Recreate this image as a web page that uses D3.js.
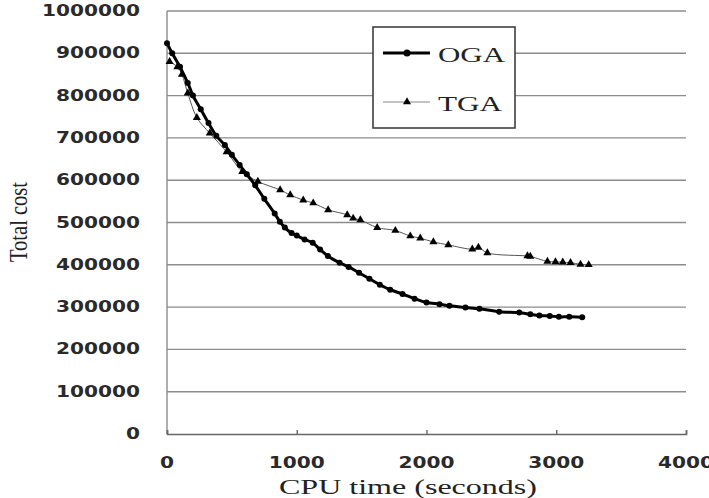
<!DOCTYPE html>
<html>
<head>
<meta charset="utf-8">
<script src="https://cdn.jsdelivr.net/npm/d3@7"></script>
<style>
  body { margin: 0; background: #fff; }
  svg { display: block; }
</style>
</head>
<body>
<div id="chart"></div>
<script>
// values
const ogaTime = [0, 40, 100, 160, 200, 260, 320, 380, 446, 500, 560, 615, 680, 750, 830, 870, 908, 960, 1000, 1060, 1123, 1180, 1240, 1330, 1400, 1480, 1560, 1640, 1720, 1815, 1908, 2000, 2100, 2177, 2300, 2408, 2560, 2715, 2800, 2870, 2950, 3020, 3100, 3200];
const ogaCost = [924000, 900000, 868000, 830000, 800000, 768000, 735000, 705000, 683000, 660000, 636000, 614000, 588000, 556000, 521000, 502000, 488000, 475000, 469000, 460000, 452000, 436000, 421000, 405000, 395000, 381000, 367000, 353000, 341000, 331000, 320000, 311000, 307000, 303000, 299000, 296000, 289000, 287000, 283000, 280000, 279000, 277000, 277000, 276000];

const tgaTime = [20, 80, 115, 160, 230, 330, 460, 580, 700, 872, 950, 1050, 1127, 1242, 1389, 1435, 1490, 1620, 1760, 1875, 1952, 2053, 2168, 2353, 2400, 2469, 2778, 2800, 2932, 2994, 3050, 3110, 3187, 3250];
const tgaCost = [880000, 868000, 850000, 806000, 748000, 711000, 667000, 620000, 597000, 577000, 565000, 553000, 546000, 530000, 518000, 510000, 506000, 488000, 481000, 468000, 463000, 454000, 447000, 437000, 441000, 428000, 421000, 420000, 408000, 407000, 406000, 405000, 401000, 400000];

const xTicks = [0, 1000, 2000, 3000, 4000];
const yTicks = [0, 100000, 200000, 300000, 400000, 500000, 600000, 700000, 800000, 900000, 1000000];
const seriesNames = ["OGA", "TGA"];

const width = 709, height = 498;
const margin = {top: 11, right: 23, bottom: 64, left: 167};

const svg = d3.select('#chart').append('svg')
    .attr('width', width)
    .attr('height', height);

const x = d3.scaleLinear().domain([0, 4000]).range([margin.left, width - margin.right]);
const y = d3.scaleLinear().domain([0, 1000000]).range([height - margin.bottom, margin.top]);

// gridlines
svg.append('g').selectAll('line')
    .data(yTicks.filter(d => d > 0))
    .enter().append('line')
    .attr('x1', x(0)).attr('x2', x(4000))
    .attr('y1', d => y(d)).attr('y2', d => y(d))
    .attr('stroke', '#8c8c8c').attr('stroke-width', 1.4);

// left axis line
svg.append('line')
    .attr('x1', x(0)).attr('x2', x(0))
    .attr('y1', y(0)).attr('y2', y(1000000))
    .attr('stroke', '#8c8c8c').attr('stroke-width', 1.4);

// bottom axis with small inside ticks
const xAxis = svg.append('g')
    .attr('transform', `translate(0,${y(0)})`)
    .call(d3.axisBottom(x).tickValues(xTicks).tickSize(-4).tickFormat(''));
xAxis.select('.domain').attr('stroke', '#666').attr('stroke-width', 1.6);
xAxis.selectAll('.tick line').attr('stroke', '#666').attr('stroke-width', 1.4);

// tick labels (wide face, stretched to match)
const labelFont = "'DejaVu Sans', sans-serif";
svg.append('g').selectAll('text')
    .data(yTicks)
    .enter().append('text')
    .attr('x', 140)
    .attr('y', d => y(d) + 5)
    .attr('text-anchor', 'end')
    .attr('font-family', labelFont)
    .attr('font-size', 15)
    .attr('font-weight', 'bold')
    .attr('fill', '#2a2a2a')
    .attr('textLength', d => String(d).length * 14)
    .attr('lengthAdjust', 'spacingAndGlyphs')
    .text(d => d);

svg.append('g').selectAll('text')
    .data(xTicks)
    .enter().append('text')
    .attr('x', d => x(d))
    .attr('y', 468)
    .attr('text-anchor', 'middle')
    .attr('font-family', labelFont)
    .attr('font-size', 15)
    .attr('font-weight', 'bold')
    .attr('fill', '#2a2a2a')
    .attr('textLength', d => String(d).length * 14)
    .attr('lengthAdjust', 'spacingAndGlyphs')
    .text(d => d);

// axis titles
svg.append('text')
    .attr('x', 408).attr('y', 494)
    .attr('text-anchor', 'middle')
    .attr('font-family', "'Liberation Serif', serif")
    .attr('font-size', 21)
    .attr('fill', '#222')
    .attr('textLength', 258)
    .attr('lengthAdjust', 'spacingAndGlyphs')
    .text('CPU time (seconds)');

svg.append('text')
    .attr('transform', 'translate(27,222) rotate(-90)')
    .attr('text-anchor', 'middle')
    .attr('font-family', "'Liberation Serif', serif")
    .attr('font-size', 26)
    .attr('fill', '#222')
    .attr('textLength', 80)
    .attr('lengthAdjust', 'spacingAndGlyphs')
    .text('Total cost');

// series
const oga = ogaTime.map((t, i) => ({t, v: ogaCost[i]}));
const tga = tgaTime.map((t, i) => ({t, v: tgaCost[i]}));

const line = d3.line()
    .x(d => x(d.t))
    .y(d => y(d.v))
    .curve(d3.curveCatmullRom.alpha(0.5));

svg.append('path')
    .datum(tga)
    .attr('d', line)
    .attr('fill', 'none')
    .attr('stroke', '#555')
    .attr('stroke-width', 1);

const tri = d3.symbol().type(d3.symbolTriangle).size(28);
svg.append('g').selectAll('path')
    .data(tga)
    .enter().append('path')
    .attr('d', tri)
    .attr('transform', d => `translate(${x(d.t)},${y(d.v)})`)
    .attr('fill', '#000');

svg.append('path')
    .datum(oga)
    .attr('d', line)
    .attr('fill', 'none')
    .attr('stroke', '#000')
    .attr('stroke-width', 3);

svg.append('g').selectAll('circle')
    .data(oga)
    .enter().append('circle')
    .attr('cx', d => x(d.t))
    .attr('cy', d => y(d.v))
    .attr('r', 3)
    .attr('fill', '#000');

// legend
const legend = svg.append('g');
legend.append('rect')
    .attr('x', 373).attr('y', 27)
    .attr('width', 142).attr('height', 101)
    .attr('fill', '#fff')
    .attr('stroke', '#333').attr('stroke-width', 1.5);

const rows = [
    {name: seriesNames[0], y: 53, width: 3, color: '#000', mark: 'circle'},
    {name: seriesNames[1], y: 102, width: 1, color: '#888', mark: 'triangle'}
];
rows.forEach(r => {
    legend.append('line')
        .attr('x1', 383).attr('x2', 430)
        .attr('y1', r.y).attr('y2', r.y)
        .attr('stroke', r.color).attr('stroke-width', r.width);
    if (r.mark === 'circle') {
        legend.append('circle').attr('cx', 407).attr('cy', r.y).attr('r', 3.5).attr('fill', '#000');
    } else {
        legend.append('path').attr('d', tri).attr('transform', `translate(407,${r.y})`).attr('fill', '#000');
    }
    legend.append('text')
        .attr('x', 438).attr('y', r.y + 9)
        .attr('font-family', "'Liberation Serif', serif")
        .attr('font-size', 22)
        .attr('fill', '#222')
        .attr('textLength', r.name === 'OGA' ? 67 : 64)
        .attr('lengthAdjust', 'spacingAndGlyphs')
        .text(r.name);
});
</script>
</body>
</html>
